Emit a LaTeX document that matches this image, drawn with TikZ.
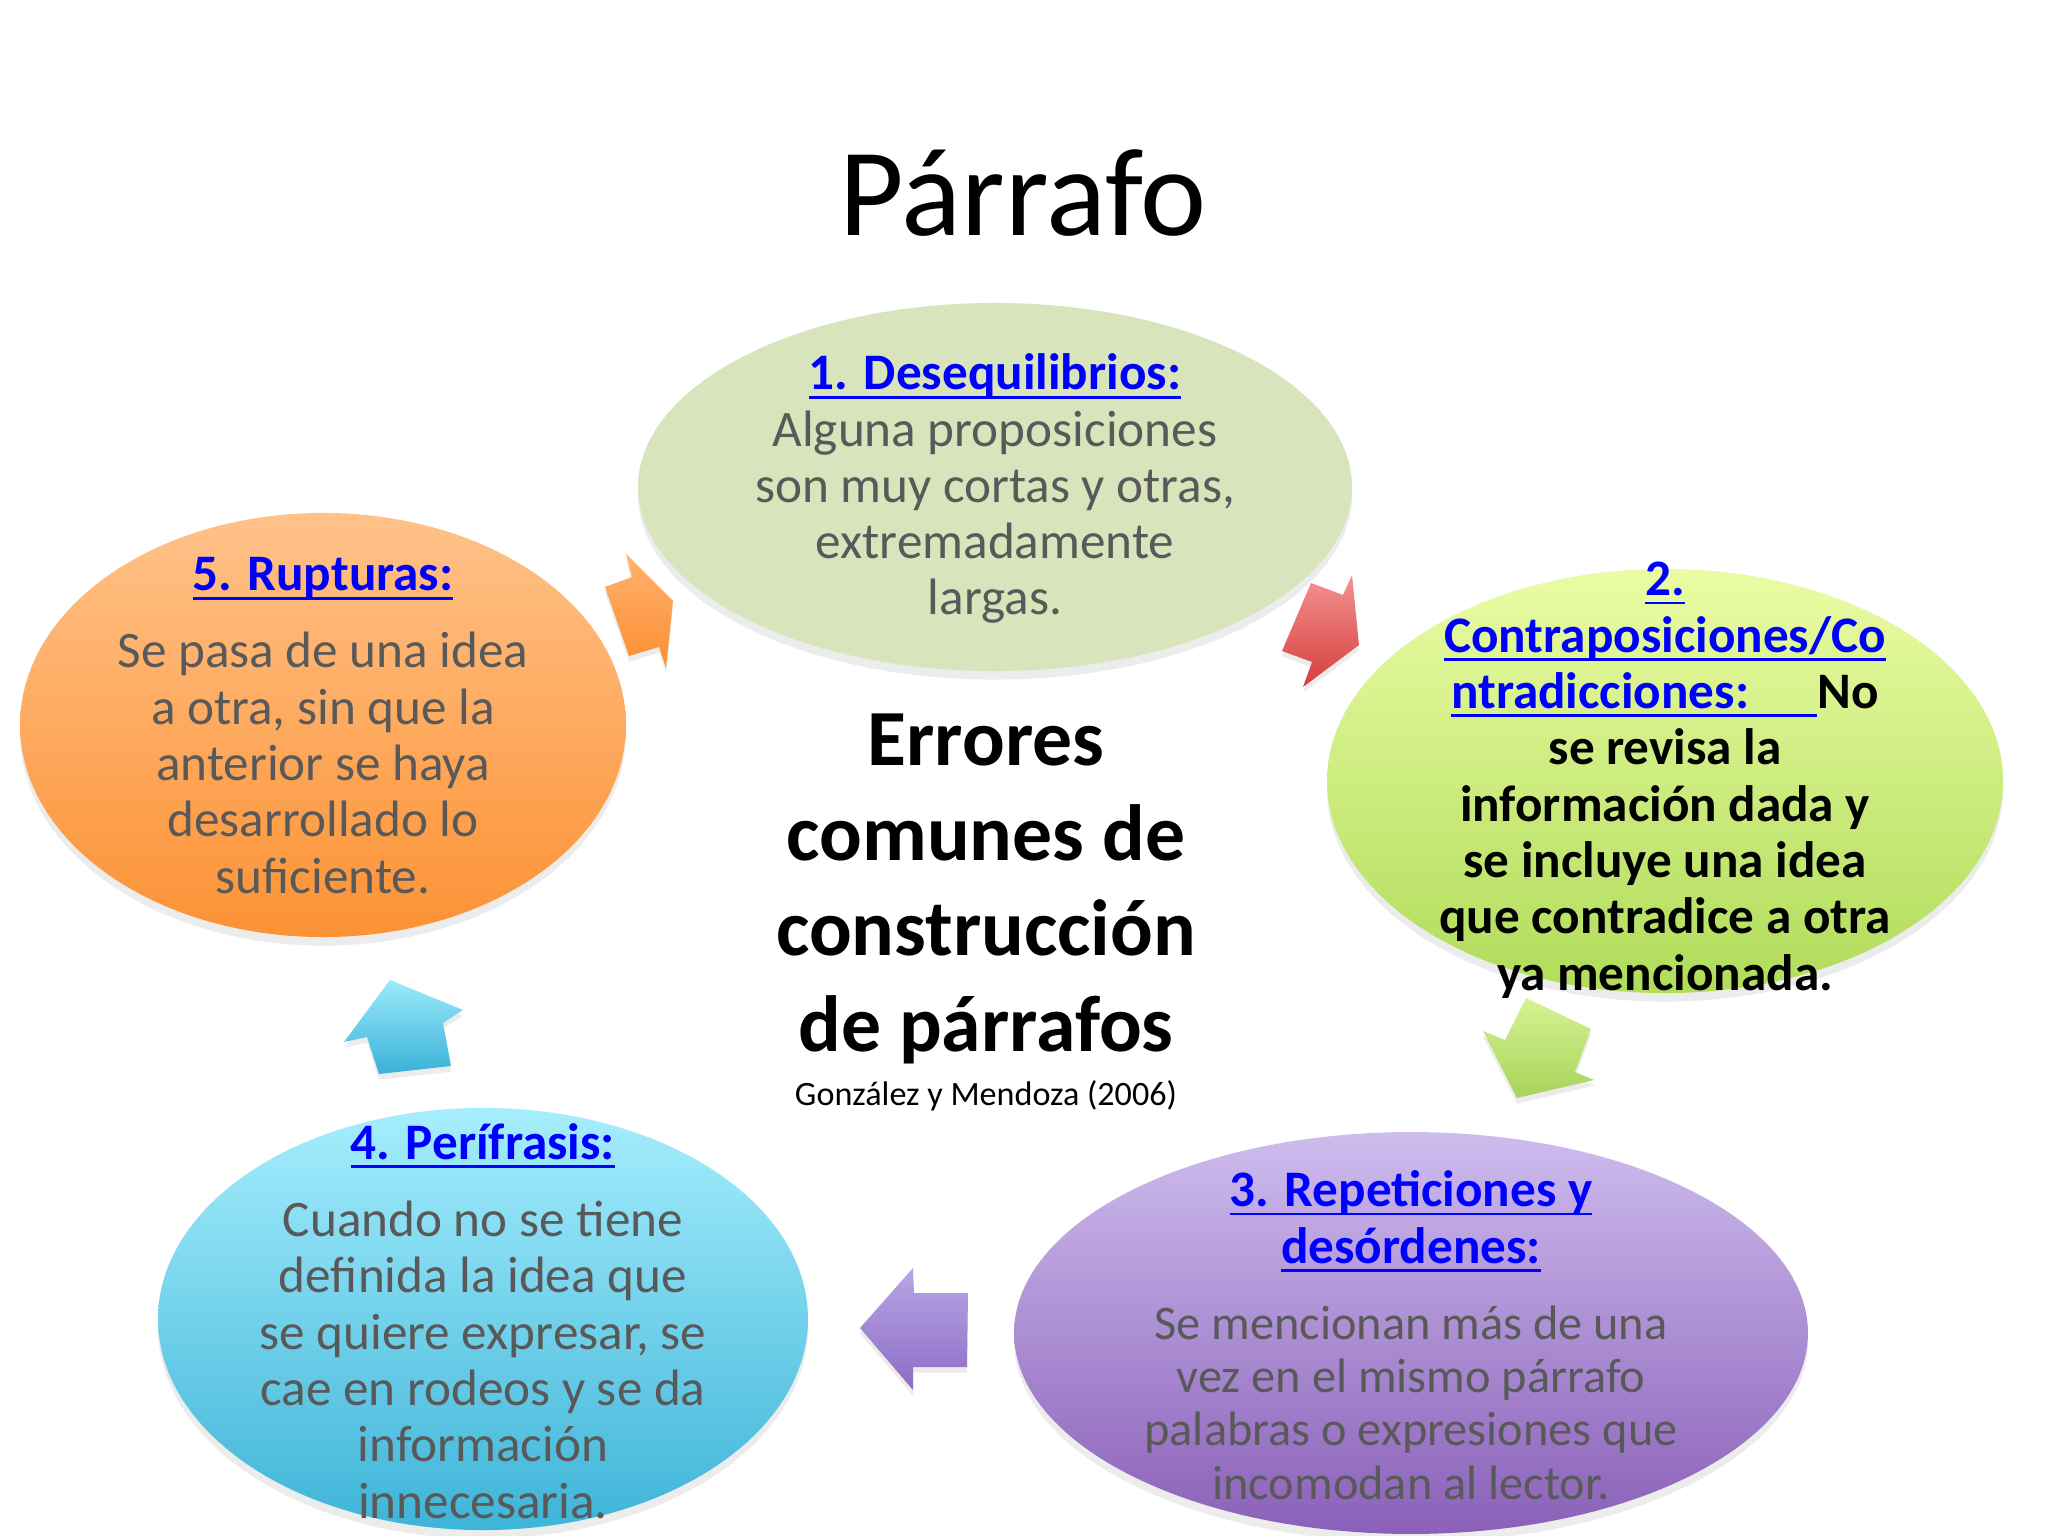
\documentclass[tikz,border=0pt]{standalone}
\usepackage{fontspec}
\setmainfont{Carlito}
\usepackage{tikz}
\usetikzlibrary{shapes.geometric, shadows}
\definecolor{linkblue}{RGB}{0,0,255}
\definecolor{bodygray}{RGB}{89,89,89}
\newcommand{\hd}[1]{{\color{linkblue}\bfseries\setbox0\hbox{#1}\rlap{\rule[-3pt]{\wd0}{0.9pt}}\box0}}

\begin{document}
\begin{tikzpicture}[x=0.35156pt, y=-0.35156pt]
      \tikzset{bubble/.style = {shape=ellipse, inner sep=0pt, draw=none, drop shadow={opacity=0.15, shadow xshift=0pt, shadow yshift=-3pt}}}
      \tikzset{blockarrow/.style = {drop shadow={opacity=0.15, shadow xshift=0pt, shadow yshift=-2pt}}}
      \tikzset{body/.style = {align=center, anchor=base, text=bodygray, font=\fontsize{18}{19.8}\selectfont}}
      \tikzset{head/.style = {align=center, anchor=base, font=\bfseries\fontsize{18}{19.8}\selectfont}}
      \useasboundingbox[fill=white] (0,0) rectangle (2048,1536);
      \shade[blockarrow, top color={rgb,255:red,255;green,178;blue,112}, bottom color={rgb,255:red,252;green,142;blue,48}]
        (626,554) -- (632,577) -- (605,587) -- (629,656) -- (659,647) -- (666,668) -- (673,601) -- cycle;
      \shade[blockarrow, top color={rgb,255:red,244;green,146;blue,146}, bottom color={rgb,255:red,214;green,62;blue,62}]
        (1311,583) -- (1343,595) -- (1352,575) -- (1359,645) -- (1303,687) -- (1312,662) -- (1282,651) -- cycle;
      \shade[blockarrow, top color={rgb,255:red,214;green,242;blue,146}, bottom color={rgb,255:red,166;green,212;blue,90}]
        (1526,998) -- (1591,1029) -- (1575,1072) -- (1594,1080) -- (1517,1098) -- (1483,1031) -- (1505,1040) -- cycle;
      \shade[blockarrow, top color={rgb,255:red,186;green,166;blue,230}, bottom color={rgb,255:red,140;green,108;blue,196}]
        (860,1328) -- (913,1268) -- (914,1293) -- (968,1293) -- (967,1367) -- (913,1367) -- (913,1390) -- cycle;
      \shade[blockarrow, top color={rgb,255:red,156;green,234;blue,250}, bottom color={rgb,255:red,58;green,178;blue,216}]
        (390,980) -- (463,1010) -- (443,1023) -- (451,1066) -- (379,1074) -- (367,1037) -- (344,1042) -- cycle;
      \node[bubble, fill={rgb,255:red,216;green,228;blue,188}, minimum width=251pt, minimum height=129.4pt] (e1) at (995,487) {};
      \node[bubble, top color={rgb,255:red,234;green,252;blue,164}, bottom color={rgb,255:red,176;green,220;blue,90}, minimum width=237.7pt, minimum height=149.1pt] (e2) at (1665,781) {};
      \node[bubble, top color={rgb,255:red,206;green,188;blue,238}, bottom color={rgb,255:red,138;green,96;blue,184}, minimum width=279.1pt, minimum height=141.3pt] (e3) at (1411,1333) {};
      \node[bubble, top color={rgb,255:red,166;green,238;blue,253}, bottom color={rgb,255:red,62;green,180;blue,216}, minimum width=228.5pt, minimum height=148.4pt] (e4) at (483,1319) {};
      \node[bubble, top color={rgb,255:red,255;green,194;blue,138}, bottom color={rgb,255:red,252;green,146;blue,52}, minimum width=213pt, minimum height=149.1pt] (e5) at (323,725) {};
      \node[anchor=base, font=\fontsize{44}{52}\selectfont] (title) at (1023,236) {Párrafo};
      \node[head] (h1) at (995,390) {\hd{1. Desequilibrios:}};
      \node[body] (t1) at (995,615) {Alguna proposiciones\\son muy cortas y otras,\\extremadamente\\largas.};
      \node[head] (t2) at (1665,990) {\hd{2.}\\\hd{Contraposiciones/Co}\\\hd{ntradicciones:\hspace{24pt}}No\\se revisa la\\información dada y\\se incluye una idea\\que contradice a otra\\ya mencionada.};
      \node[head] (h3) at (1411,1263) {\hd{3. Repeticiones y}\\\hd{desórdenes:}};
      \node[body, font=\fontsize{17}{18.7}\selectfont] (t3) at (1411,1499) {Se mencionan más de una\\vez en el mismo párrafo\\palabras o expresiones que\\incomodan al lector.};
      \node[head] (h4) at (483,1159) {\hd{4. Perífrasis:}};
      \node[body] (t4) at (483,1518) {Cuando no se tiene\\definida la idea que\\se quiere expresar, se\\cae en rodeos y se da\\información\\innecesaria.};
      \node[head] (h5) at (323,591) {\hd{5. Rupturas:}};
      \node[body] (t5) at (323,893) {Se pasa de una idea\\a otra, sin que la\\anterior se haya\\desarrollado lo\\suficiente.};
      \node[align=center, anchor=base, font=\bfseries\fontsize{28}{33.4}\selectfont] (center) at (986,1051) {Errores\\comunes de\\construcción\\de párrafos};
      \node[anchor=base, font=\fontsize{12}{14}\selectfont] (source) at (986,1105) {González y Mendoza (2006)};
\end{tikzpicture}
\end{document}
